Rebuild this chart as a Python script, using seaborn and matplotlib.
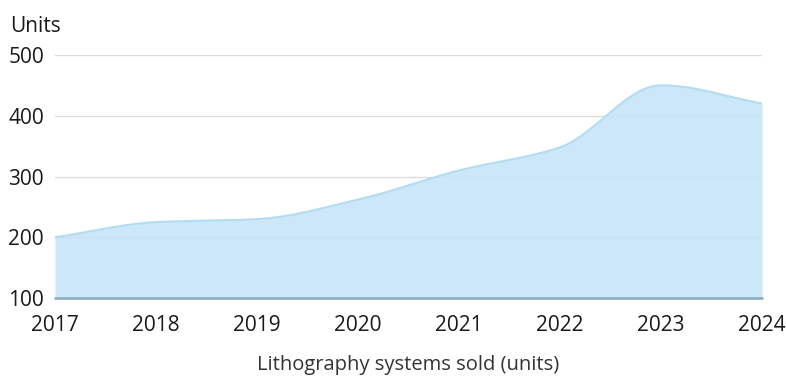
import numpy as np
import pandas as pd
import matplotlib
matplotlib.use("Agg")
import matplotlib.pyplot as plt
import seaborn as sns

# Annual lithography system sales
years = [2017, 2018, 2019, 2020, 2021, 2022, 2023, 2024]
units = [200, 225, 230, 262, 310, 348, 450, 420]
y_ticks = [100, 200, 300, 400, 500]


def monotone_curve(x, y, n=60):
    """Monotone cubic (Fritsch-Carlson) curve through the given points."""
    x = np.asarray(x, float)
    y = np.asarray(y, float)
    h = np.diff(x)
    d = np.diff(y) / h
    m = np.zeros_like(y)
    m[0], m[-1] = d[0], d[-1]
    for i in range(1, len(y) - 1):
        if d[i - 1] * d[i] <= 0:
            m[i] = 0.0
        else:
            w1 = 2 * h[i] + h[i - 1]
            w2 = h[i] + 2 * h[i - 1]
            m[i] = (w1 + w2) / (w1 / d[i - 1] + w2 / d[i])
    xs, ys = [], []
    for i in range(len(x) - 1):
        t = np.linspace(0, 1, n, endpoint=(i == len(x) - 2))
        h00 = 2 * t**3 - 3 * t**2 + 1
        h10 = t**3 - 2 * t**2 + t
        h01 = -2 * t**3 + 3 * t**2
        h11 = t**3 - t**2
        xs.append(x[i] + t * h[i])
        ys.append(h00 * y[i] + h10 * h[i] * m[i] + h01 * y[i + 1] + h11 * h[i] * m[i + 1])
    return np.concatenate(xs), np.concatenate(ys)


sns.set_style("white")
plt.rcParams["font.family"] = ["Open Sans", "DejaVu Sans"]

fig = plt.figure(figsize=(7.86, 3.76), dpi=100)
ax = fig.add_axes([0.070, 0.207, 0.8995, 0.647])

cx, cy = monotone_curve(years, units)
curve = pd.DataFrame({"year": cx, "units": cy})

ax.fill_between(cx, 100, cy, color="#c4e4f7", alpha=0.85, linewidth=0, zorder=2)
sns.lineplot(data=curve, x="year", y="units", ax=ax, color="#b3dcf3",
             linewidth=1.5, zorder=3)

for t in y_ticks[1:]:
    ax.axhline(t, color="#dcdcdc", linewidth=1, zorder=1)
ax.axhline(100, color="#8eb0c4", linewidth=2, zorder=4, clip_on=False)

ax.set_xlim(2017, 2024)
ax.set_ylim(100, 500)
ax.set_xticks(years)
ax.set_xticklabels([str(y) for y in years])
ax.set_yticks(y_ticks)
ax.tick_params(axis="both", length=0, labelsize=15, labelcolor="#1a1a1a")
ax.tick_params(axis="y", pad=8)
ax.tick_params(axis="x", pad=12)
for s in ax.spines.values():
    s.set_visible(False)

ax.set_xlabel("Lithography systems sold (units)", fontsize=14.5, color="#333333",
              labelpad=14)
ax.set_ylabel("")
fig.text(10 / 786, 1 - 26 / 376, "Units", fontsize=15, color="#1a1a1a",
         ha="left", va="center")

fig.savefig("out.png", dpi=100)
